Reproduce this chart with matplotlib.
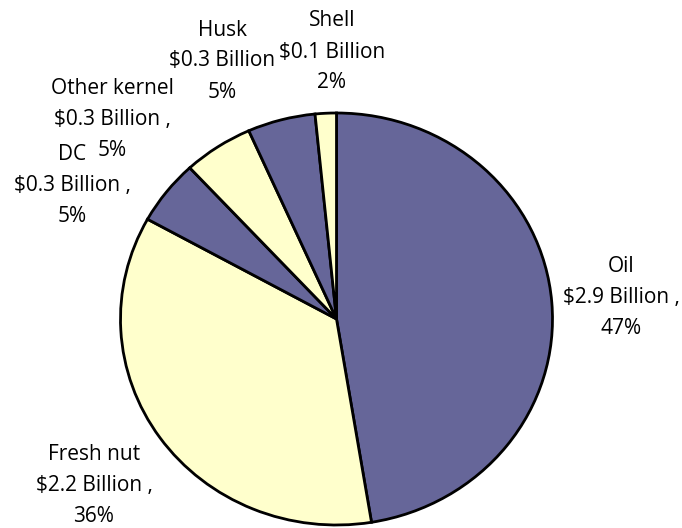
import matplotlib.pyplot as plt

plt.rcParams['font.family'] = ['Open Sans', 'DejaVu Sans']
plt.rcParams['text.parse_math'] = False

# slice data, clockwise from 12 o'clock
segments = ['Oil', 'Fresh nut', 'DC', 'Other kernel', 'Husk', 'Shell']
values = [2.9, 2.18, 0.31, 0.32, 0.31, 0.097]
value_text = ['$2.9 Billion ,', '$2.2 Billion ,', '$0.3 Billion ,',
              '$0.3 Billion ,', '$0.3 Billion', '$0.1 Billion']
percent_text = ['47%', '36%', '5%', '5%', '5%', '2%']

purple = '#666699'
yellow = '#FFFFCC'
colors = [purple, yellow, purple, yellow, purple, yellow]

# label centres (middle line) in pixels, x from left, y from top
label_pos = [(621, 298), (94, 486), (72, 186), (112, 119), (222, 61), (332, 52)]
line_gap = 31

W, H = 682, 528
fig = plt.figure(figsize=(W / 100, H / 100), dpi=100)
# pie box: x 120.5..552.5, y 113..525 (pixels)
ax = fig.add_axes([120.5 / W, (H - 525) / H, 432 / W, 412 / H])

wedges, _ = ax.pie(values, colors=colors, startangle=90, counterclock=False,
                   wedgeprops=dict(edgecolor='black', linewidth=2.0))
for w in wedges:
    w.set_clip_on(False)
ax.set_aspect('auto')
ax.set_xlim(-1, 1)
ax.set_ylim(-1, 1)
ax.axis('off')

# each label line as its own text so neighbouring labels can interleave
for name, val, pct, (px, py) in zip(segments, value_text, percent_text, label_pos):
    for k, line in enumerate([name, val, pct]):
        y = py + (k - 1) * line_gap
        fig.text(px / W, 1 - y / H, line, ha='center', va='center',
                 fontsize=15, color='black')

fig.savefig('out.png', dpi=100)
